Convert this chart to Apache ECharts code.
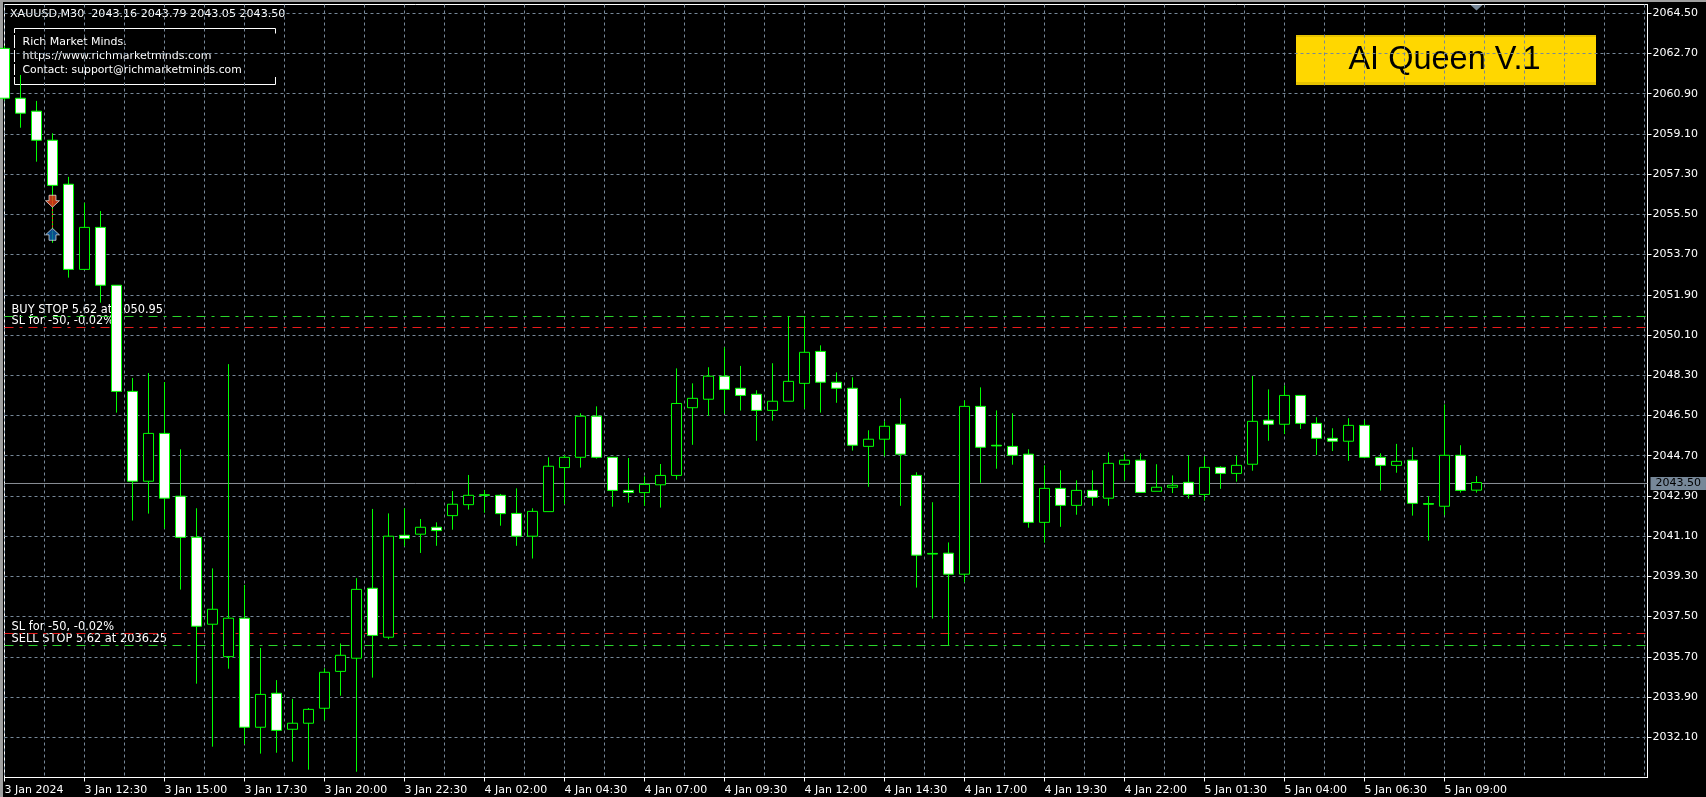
<!DOCTYPE html>
<html><head><meta charset="utf-8">
<style>html,body{margin:0;padding:0;background:#000;overflow:hidden}#c{width:1706px;height:797px}</style>
<script src="https://cdn.jsdelivr.net/npm/echarts@6/dist/echarts.min.js"></script>
</head><body><div id="c"></div>
<script>
const opens=[2062.93,2060.70,2060.12,2058.82,2056.85,2053.04,2054.92,2052.33,2047.58,2043.56,2045.70,2042.89,2041.05,2037.16,2035.71,2037.43,2032.55,2034.07,2032.46,2032.73,2033.40,2035.05,2035.64,2038.77,2036.58,2041.14,2041.19,2041.50,2042.02,2042.51,2042.95,2042.93,2042.12,2041.10,2042.20,2044.17,2044.63,2046.47,2044.63,2043.15,2043.05,2043.40,2043.82,2046.85,2047.23,2048.26,2047.72,2047.45,2046.73,2047.14,2047.94,2049.37,2047.99,2047.72,2045.12,2045.44,2046.11,2043.82,2040.33,2040.34,2039.40,2046.91,2045.17,2045.12,2044.77,2041.72,2043.24,2042.48,2043.15,2042.80,2044.32,2044.50,2043.11,2043.29,2043.51,2042.97,2044.18,2043.91,2044.32,2046.29,2046.11,2047.40,2046.15,2045.48,2045.35,2046.06,2044.63,2044.27,2044.50,2042.56,2042.44,2044.72,2043.16];
const closes=[2060.70,2060.03,2058.82,2056.80,2053.04,2054.92,2052.33,2047.58,2043.56,2045.70,2042.80,2041.05,2037.07,2037.83,2037.43,2032.55,2034.02,2032.41,2032.73,2033.35,2035.01,2035.77,2038.72,2036.66,2041.10,2041.00,2041.50,2041.35,2042.53,2042.93,2042.93,2042.11,2041.10,2042.21,2044.23,2044.63,2046.47,2044.63,2043.15,2043.05,2043.42,2043.82,2047.04,2047.27,2048.26,2047.67,2047.40,2046.73,2047.14,2048.03,2049.33,2047.99,2047.72,2045.17,2045.44,2046.02,2044.77,2040.25,2040.30,2039.40,2046.91,2045.08,2045.14,2044.72,2041.72,2043.24,2042.48,2043.15,2042.84,2044.36,2044.50,2043.06,2043.29,2043.38,2042.97,2044.18,2043.91,2044.27,2046.24,2046.11,2047.40,2046.15,2045.48,2045.35,2046.06,2044.63,2044.27,2044.45,2042.57,2042.53,2044.72,2043.15,2043.50];
const lows=[2060.60,2059.38,2057.86,2054.23,2052.67,2053.04,2051.55,2046.63,2041.80,2042.11,2041.44,2038.71,2034.50,2031.68,2035.17,2031.80,2031.37,2031.41,2031.01,2030.65,2032.86,2033.96,2030.56,2034.77,2036.49,2040.65,2040.35,2040.67,2041.39,2042.29,2042.15,2041.57,2040.67,2040.10,2042.20,2042.54,2044.17,2044.57,2042.42,2042.60,2042.46,2042.38,2043.63,2045.19,2046.48,2046.58,2046.72,2045.37,2046.27,2047.14,2046.81,2046.63,2047.07,2044.93,2043.31,2044.68,2042.46,2038.80,2037.41,2036.23,2039.04,2043.49,2044.12,2044.30,2041.48,2040.81,2041.52,2042.06,2042.46,2042.46,2043.58,2043.06,2043.11,2043.03,2042.78,2042.69,2043.22,2043.54,2044.03,2045.37,2045.67,2045.90,2044.73,2044.91,2044.47,2044.59,2043.14,2043.94,2042.02,2040.90,2042.04,2043.05,2043.05];
const highs=[2063.05,2061.74,2060.58,2059.13,2057.18,2056.02,2055.65,2052.33,2048.18,2048.40,2048.00,2044.99,2042.35,2039.66,2048.80,2038.92,2036.10,2034.66,2033.82,2033.41,2035.19,2036.30,2039.22,2042.32,2042.12,2042.35,2041.87,2041.72,2043.12,2043.84,2043.17,2042.99,2043.24,2042.35,2044.63,2044.73,2046.60,2046.91,2044.63,2044.60,2043.78,2044.33,2048.61,2047.94,2048.66,2049.55,2048.72,2047.63,2048.84,2050.92,2050.92,2049.64,2048.43,2048.21,2045.84,2046.24,2047.27,2043.96,2042.62,2040.82,2047.18,2047.76,2046.73,2046.60,2044.99,2044.27,2044.05,2043.60,2044.05,2044.85,2044.77,2044.81,2044.32,2043.82,2044.72,2044.68,2044.23,2044.72,2048.27,2047.67,2047.85,2047.40,2046.42,2045.93,2046.38,2046.29,2044.81,2045.23,2045.08,2042.89,2047.00,2045.17,2043.79];
const xTickBars=[0,5,10,15,20,25,30,35,40,45,50,55,60,65,70,75,80,85,90];
const xLabels=['3 Jan 2024','3 Jan 12:30','3 Jan 15:00','3 Jan 17:30','3 Jan 20:00','3 Jan 22:30','4 Jan 02:00','4 Jan 04:30','4 Jan 07:00','4 Jan 09:30','4 Jan 12:00','4 Jan 14:30','4 Jan 17:00','4 Jan 19:30','4 Jan 22:00','5 Jan 01:30','5 Jan 04:00','5 Jan 06:30','5 Jan 09:00'];
const yTicks=[2032.1,2033.9,2035.7,2037.5,2039.3,2041.1,2042.9,2044.7,2046.5,2048.3,2050.1,2051.9,2053.7,2055.5,2057.3,2059.1,2060.9,2062.7,2064.5];
const buyStopLine=2050.9315, buyStopSL=2050.439, sellStopLine=2036.208, sellStopSL=2036.745, lastPriceLine=2043.458;
const lastPriceTag='2043.50';
const sellMark=[3,2056.09], buyMark=[3,2054.61];

const XMAX=102.69, YMIN=2030.301, YMAX=2064.894;
const GRID='#778899', FONT='DejaVu Sans';
const candles=opens.map((o,i)=>[i,o,closes[i],lows[i],highs[i]]);
const level=(p,color,dash,extra)=>Object.assign({type:'line',z:1,symbol:'none',silent:true,data:[[0,p],[XMAX,p]],
  lineStyle:{color,width:1,type:dash}},extra||{});
const DASHDOT=[9,6,3,6];
const seg=(x1,y1,x2,y2)=>({type:'line',z:-5,shape:{x1,y1,x2,y2},style:{stroke:'#fff',lineWidth:1}});
const txt=(x,y,text,size)=>({type:'text',z:-4,x,y,style:{text,fill:'#fff',font:(size||'11px')+' "'+FONT+'"',textVerticalAlign:'middle'}});

const chart=echarts.init(document.getElementById('c'),null,{renderer:'canvas'});
chart.setOption({
  animation:false,
  backgroundColor:'#000',
  grid:{left:4.5,top:4.5,width:1643,height:773,show:true,borderColor:'#fff',borderWidth:1,backgroundColor:'transparent',containLabel:false},
  xAxis:[
    {type:'value',min:0,max:XMAX,interval:2.5,position:'bottom',
     axisLine:{show:false},axisTick:{show:false},axisLabel:{show:false},
     splitLine:{show:true,lineStyle:{color:GRID,width:1,type:[3,3]}}},
    {type:'value',min:0,max:XMAX,position:'bottom',
     axisLine:{show:true,onZero:false,lineStyle:{color:'#fff',width:1}},
     axisTick:{show:true,length:4,customValues:xTickBars,lineStyle:{color:'#fff',width:1}},
     splitLine:{show:false},
     axisLabel:{show:true,customValues:xTickBars,hideOverlap:false,color:'#fff',fontFamily:FONT,fontSize:11,align:'left',margin:7,
       formatter:v=>xLabels[xTickBars.indexOf(v)]||''}}
  ],
  yAxis:{type:'value',position:'right',min:YMIN,max:YMAX,scale:true,
    axisLine:{show:true,onZero:false,lineStyle:{color:'#fff',width:1}},
    axisTick:{show:true,length:4,customValues:yTicks,lineStyle:{color:'#fff',width:1}},
    splitLine:{show:true,lineStyle:{color:GRID,width:1,type:[3,3]}},
    axisLabel:{show:true,customValues:yTicks,color:'#fff',fontFamily:FONT,fontSize:11,margin:5,padding:[5,0,0,0],formatter:v=>v.toFixed(2)}},
  series:[
    level(lastPriceLine,'#8a8f96','solid',{z:1,endLabel:{show:true,distance:3,formatter:()=>lastPriceTag,color:'#000',backgroundColor:GRID,
      fontFamily:FONT,fontSize:11,padding:[1,5,1,5]}}),
    level(buyStopLine,'#2bd62b',DASHDOT),
    level(buyStopSL,'#e81c1c',DASHDOT),
    level(sellStopSL,'#e81c1c',DASHDOT),
    level(sellStopLine,'#2bd62b',DASHDOT),
    {type:'candlestick',z:2,clip:true,barWidth:10,silent:true,data:candles,
     itemStyle:{color:'#000',color0:'#fff',borderColor:'#00ff00',borderColor0:'#00ff00',borderColorDoji:'#00ff00',borderWidth:1}},
    {type:'line',z:3,symbol:'none',silent:true,data:[sellMark,buyMark],lineStyle:{color:'#ff2a1a',width:1,type:[2,2]}},
    {type:'scatter',z:4,silent:true,symbol:'path://M3 0H9V5H12L6 11L0 5H3Z',symbolSize:[14,12],data:[sellMark],
     itemStyle:{color:'#e8451a',borderColor:'#fff',borderWidth:0.8}},
    {type:'scatter',z:4,silent:true,symbol:'path://M3 11H9V6H12L6 0L0 6H3Z',symbolSize:[14,12],data:[buyMark],
     itemStyle:{color:'#0a62b0',borderColor:'#fff',borderWidth:0.8}}
  ],
  graphic:{elements:[
    {type:'rect',z:-10,shape:{x:0,y:0,width:1706,height:2},style:{fill:'#a0a0a0'}},
    {type:'rect',z:-10,shape:{x:0,y:0,width:3,height:797},style:{fill:'#a0a0a0'}},
    {type:'rect',z:-10,shape:{x:1296,y:35,width:300,height:50},style:{fill:'#ffd700'}},
    {type:'rect',z:-9,shape:{x:1296,y:82,width:300,height:3},style:{fill:'#e6c200'}},
    {type:'rect',z:-9,shape:{x:1296,y:35,width:300,height:2},style:{fill:'#e6c200'}},
    {type:'text',z:-8,x:1444.5,y:60.5,style:{text:'AI Queen V.1',fill:'#000',font:'32.5px "Liberation Sans"',textAlign:'center',textVerticalAlign:'middle'}},
    seg(14.5,28.5,275.5,28.5),seg(14.5,84.5,275.5,84.5),
    seg(14.5,28.5,14.5,33),seg(14.5,35,14.5,48),seg(14.5,50,14.5,62),seg(14.5,64,14.5,75),seg(14.5,77,14.5,84.5),
    seg(275.5,28.5,275.5,33.5),seg(275.5,77,275.5,84.5),
    txt(10,14.5,'XAUUSD,M30  2043.16 2043.79 2043.05 2043.50','11.1px'),
    txt(22.5,42.5,'Rich Market Minds.'),
    txt(22.5,56.5,'https://www.richmarketminds.com'),
    txt(22.5,70.5,'Contact: support@richmarketminds.com','10.8px'),
    txt(11.5,310.5,'BUY STOP 5.62 at 2050.95','11.4px'),
    txt(11.5,321.5,'SL for -50, -0.02%','11.4px'),
    txt(11.5,627.5,'SL for -50, -0.02%','11.4px'),
    txt(11.5,639.5,'SELL STOP 5.62 at 2036.25','11.4px'),
    {type:'polygon',z:-3,shape:{points:[[1470.5,5],[1482.5,5],[1476.5,10.5]]},style:{fill:GRID}}
  ]}
});
</script></body></html>
